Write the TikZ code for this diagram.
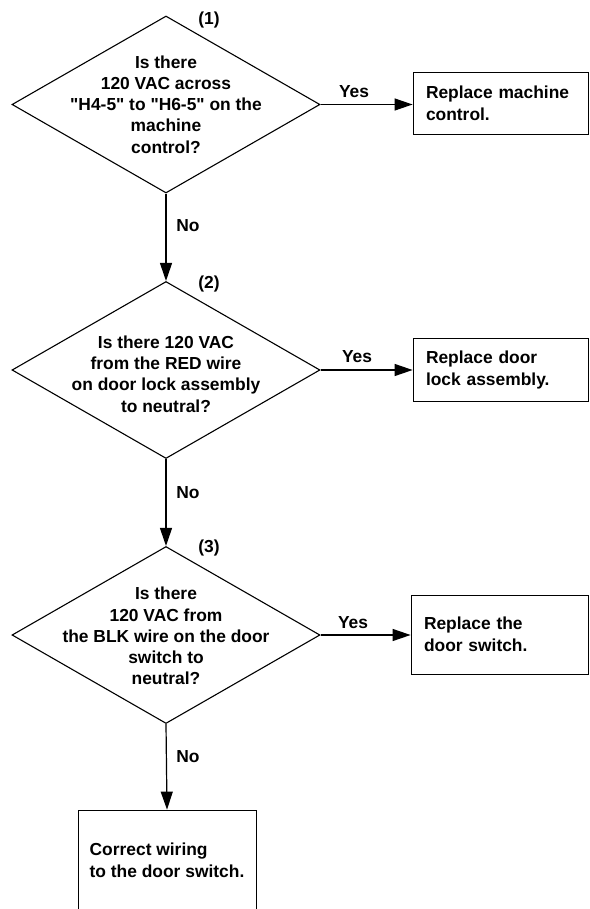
\documentclass[tikz,border=0pt]{standalone}
\usepackage{fontspec}
\newfontfamily\lib{Liberation Sans}
\usetikzlibrary{shapes.geometric,arrows.meta}
\begin{document}
\begin{tikzpicture}[x=1pt,y=-1pt,
 dia/.style={diamond,draw,line width=1.1pt,minimum width=308pt,minimum height=177pt,inner sep=0pt},
 qtext/.style={align=center,font=\lib\fontsize{17.4}{21.2}\selectfont\bfseries,inner sep=0pt},
 rbox/.style={rectangle,draw,line width=0.8pt,align=left,text width=149pt,inner xsep=13pt,inner ysep=0pt,font=\lib\fontsize{17.4}{22}\selectfont\bfseries},
 lbox/.style={rectangle,draw,line width=0.8pt,align=left,inner sep=0pt,minimum width=178pt,font=\lib\fontsize{17.4}{22}\selectfont\bfseries},
 lbl/.style={font=\lib\fontsize{17.4}{21}\selectfont\bfseries,inner sep=0pt},
 conn/.style={line width=1.2pt,-{Triangle[length=18pt,width=12pt]}}
]
\useasboundingbox (0,0) rectangle (589,909);
\clip (0,0) rectangle (589,909);

% decisions
\node[dia] (d1) at (166,104.5) {};
\node[qtext] (t1) at (166,104.5) {Is there\\120 VAC across\\"H4-5" to "H6-5" on the\\machine\\control?};
\node[lbl] (n1) at (209,20) {(1)};

\node[dia] (d2) at (166,370) {};
\node[qtext] (t2) at (166,374) {Is there 120 VAC\\from the RED wire\\on door lock assembly\\to neutral?};
\node[lbl] (n2) at (209,284) {(2)};

\node[dia] (d3) at (166,635) {};
\node[qtext] (t3) at (166,636) {Is there\\120 VAC from\\the BLK wire on the door\\switch to\\neutral?};
\node[lbl] (n3) at (209,548) {(3)};

% actions
\node[rbox,minimum height=62pt] (b1) at (500.5,103) {Replace machine\\control.};
\node[rbox,minimum height=63pt] (b2) at (500.5,369.5) {Replace door\\lock assembly.};
\node[rbox,minimum height=79pt,text width=151pt] (b3) at (499.5,634.5) {Replace the\\door switch.};
\node[lbox,minimum height=100pt] (b4) at (167,860) {Correct wiring\\to the door switch.};

% connectors
\draw[conn] (d1.east) -- (d1.east -| b1.west);
\draw[conn] (d2.east) -- (d2.east -| b2.west);
\draw[conn] (d3.east) -- (d3.east -| b3.west);
\draw[conn] (d1.south) -- (d2.north);
\draw[conn] (d2.south) -- (d3.north);
\draw[conn] (d3.south) -- (b4.north);

% labels
\node[lbl] (y1) at (354,92) {Yes};
\node[lbl] (y2) at (357,357) {Yes};
\node[lbl] (y3) at (353,623) {Yes};
\node[lbl] (no1) at (188,226) {No};
\node[lbl] (no2) at (188,493) {No};
\node[lbl] (no3) at (188,757) {No};
\end{tikzpicture}
\end{document}
